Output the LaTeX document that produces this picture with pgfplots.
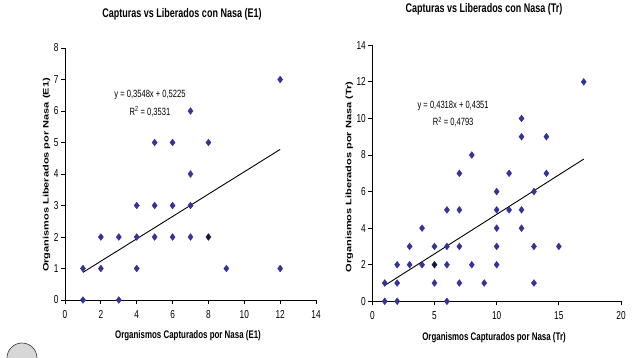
\documentclass[border=0pt]{standalone}
\usepackage{fontspec}
\setmainfont{Liberation Sans}[FakeStretch=0.72]
\newfontfamily\rotfont{Liberation Sans}
\usepackage{graphicx}
\usepackage{pgfplots}
\pgfplotsset{compat=1.18}
\definecolor{navy}{RGB}{51,51,153}
\definecolor{darkpt}{RGB}{25,25,60}
\definecolor{circfill}{RGB}{215,215,215}

\pgfplotstableread{
x y
1 0
1 1
2 1
2 2
3 2
3 0
4 1
4 2
4 3
5 2
5 3
5 5
6 2
6 3
6 5
7 2
7 3
7 4
7 6
8 5
9 1
12 1
12 7
}\tableEone

\pgfplotstableread{
x y
1 1
1 0
2 2
2 1
2 0
3 3
3 2
4 4
4 2
5 3
5 1
6 5
6 3
6 2
6 0
7 7
7 5
7 3
7 1
8 8
8 2
9 1
10 6
10 5
10 4
10 3
10 2
11 7
11 5
12 10
12 9
12 5
12 4
13 6
13 3
13 1
14 9
14 7
15 3
17 12
}\tableTr

\pgfplotsset{
  excelstyle/.style={
    scale only axis,
    axis x line*=bottom,
    axis y line*=left,
    tick align=outside,
    major tick length=4bp,
    tick style={black, line width=0.8bp},
    axis line style={black, line width=0.8bp},
    ticklabel style={font=\fontsize{11.5bp}{13bp}\selectfont},
    xticklabel style={yshift=-3bp},
    yticklabel style={xshift=1bp},
    /pgf/number format/assume math mode=true,
    clip=false,
  },
  ptstyle/.style={only marks, mark=diamond*, mark size=3.4bp, color=navy, mark options={draw=navy, fill=navy}},
}

\begin{document}
\begin{tikzpicture}[x=1bp,y=1bp]
\useasboundingbox (0,0) rectangle (641,357);

% decorative circle bottom-left
\draw[fill=circfill, draw=black!80, line width=0.6bp] (22,-1) circle (15);

\begin{axis}[excelstyle,
  at={(65bp,57bp)}, anchor=south west,
  width=251bp, height=252bp,
  xmin=0, xmax=14, ymin=0, ymax=8,
  xtick={0,2,...,14}, ytick={0,1,...,8}]
\addplot[ptstyle] table[x=x,y=y] {\tableEone};
\addplot[only marks, mark=diamond*, mark size=3.4bp, color=darkpt] coordinates {(8,2)};
\addplot[black, line width=0.9bp] coordinates {(1,0.8773) (12,4.7801)};
\node[font=\fontsize{10.5bp}{12bp}\selectfont] at (axis cs:4.74,6.5) {y = 0,3548x + 0,5225};
\node[font=\fontsize{10.5bp}{12bp}\selectfont] at (axis cs:4.74,5.97) {R\textsuperscript{2} = 0,3531};
\end{axis}

\begin{axis}[excelstyle,
  at={(372.3bp,55.7bp)}, anchor=south west,
  width=248.7bp, height=256bp,
  xmin=0, xmax=20, ymin=0, ymax=14,
  xtick={0,5,...,20}, ytick={0,2,...,14}]
\addplot[ptstyle] table[x=x,y=y] {\tableTr};
\addplot[only marks, mark=diamond*, mark size=3.4bp, color=darkpt] coordinates {(5,2)};
\addplot[black, line width=0.9bp] coordinates {(1,0.8669) (17,7.7757)};
\node[font=\fontsize{10.5bp}{12bp}\selectfont] at (axis cs:6.5,10.7) {y = 0,4318x + 0,4351};
\node[font=\fontsize{10.5bp}{12bp}\selectfont] at (axis cs:6.5,9.8) {R\textsuperscript{2} = 0,4793};
\end{axis}

% titles
\node[font=\bfseries\fontsize{12.5bp}{14bp}\selectfont] at (182,343) {Capturas vs Liberados con Nasa (E1)};
\node[font=\bfseries\fontsize{12.5bp}{14bp}\selectfont] at (484,348) {Capturas vs Liberados con Nasa (Tr)};

% x labels
\node[font=\bfseries\fontsize{11bp}{13bp}\selectfont] at (188,21.5) {Organismos Capturados por Nasa (E1)};
\node[font=\bfseries\fontsize{11bp}{13bp}\selectfont] at (494,19) {Organismos Capturados por Nasa (Tr)};

% y labels
\node[rotate=90, inner sep=0pt] at (46.7,182) {\scalebox{1}[0.72]{\rotfont\bfseries\fontsize{11bp}{13bp}\selectfont Organismos Liberados por Nasa (E1)}};
\node[rotate=90, inner sep=0pt] at (349.3,180) {\scalebox{1}[0.72]{\rotfont\bfseries\fontsize{11bp}{13bp}\selectfont Organismos Liberados por Nasa (Tr)}};
\end{tikzpicture}
\end{document}
